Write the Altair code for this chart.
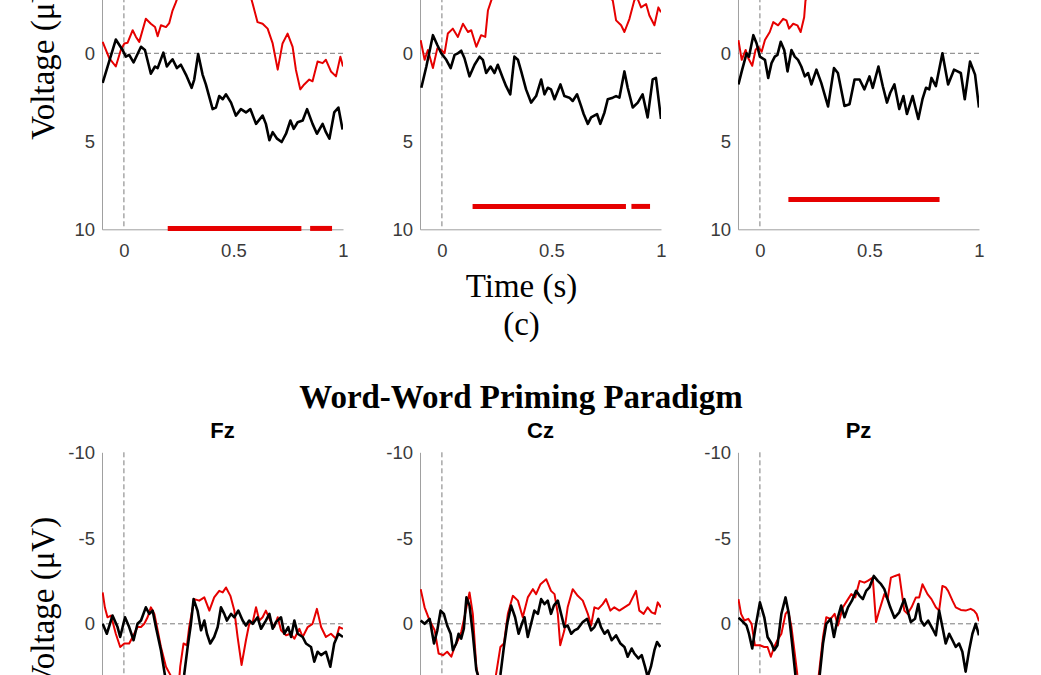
import altair as alt
import pandas as pd

RED = "#e60000"
BLACK = "#000000"
GRAY = "#7a7a7a"

# ---------------- data (time in s, voltage in microvolts) ----------------
top1_red = [(-0.097,-0.65),(-0.067,0.28),(-0.037,0.75),(-0.014,-0.19),(0.002,-0.56),(0.017,-0.6),(0.04,-1.31),(0.055,-0.93),(0.07,-0.65),(0.1,-1.96),(0.123,-1.68),(0.142,-1.49),(0.154,-0.97),(0.169,-1.59),(0.192,-1.49),(0.207,-1.72),(0.222,-2.43),(0.237,-2.89),(0.26,-3.7),(0.29,-4.5),(0.32,-5.1),(0.35,-5.7),(0.38,-6.2),(0.41,-6.5),(0.44,-6.3),(0.47,-6.7),(0.5,-6.1),(0.53,-5.3),(0.56,-4.1),(0.577,-3.3),(0.588,-2.8),(0.61,-1.77),(0.633,-1.68),(0.656,-1.4),(0.679,-0.56),(0.702,0.93),(0.724,-0.56),(0.747,-1.12),(0.77,-0.37),(0.785,0.93),(0.805,2.05),(0.823,1.77),(0.846,1.49),(0.861,1.59),(0.884,0.47),(0.907,0.56),(0.922,0.37),(0.945,1.03),(0.968,1.31),(0.988,0.19),(1.0,0.75)]
top1_black = [(-0.097,1.68),(-0.037,-0.78),(-0.006,-0.19),(0.009,0.19),(0.024,0.09),(0.044,0.52),(0.078,-0.37),(0.096,-0.19),(0.123,1.16),(0.142,0.75),(0.154,0.84),(0.18,-0.04),(0.196,0.75),(0.207,0.56),(0.222,0.34),(0.242,0.84),(0.26,0.65),(0.283,1.21),(0.309,1.96),(0.321,1.49),(0.339,0.04),(0.359,1.21),(0.374,1.77),(0.405,3.17),(0.42,3.08),(0.435,2.43),(0.451,2.61),(0.466,2.33),(0.489,2.8),(0.511,3.54),(0.534,3.17),(0.557,3.36),(0.577,3.17),(0.603,4.01),(0.633,3.54),(0.648,4.01),(0.664,4.94),(0.679,4.48),(0.699,4.85),(0.72,5.04),(0.74,4.57),(0.76,3.82),(0.775,4.29),(0.793,3.92),(0.816,3.82),(0.836,3.17),(0.861,4.01),(0.881,4.57),(0.907,4.01),(0.922,4.48),(0.938,4.85),(0.96,3.36),(0.979,3.08),(0.998,4.33)]
top1_sig = [(0.20, 0.81, 9.95), (0.85, 0.95, 9.95)]

top2_red = [(-0.097,-0.75),(-0.079,0.37),(-0.064,-0.19),(-0.041,0.84),(-0.021,-0.28),(-0.003,-0.19),(0.012,0.0),(0.027,-1.12),(0.05,-1.4),(0.073,-0.93),(0.096,-1.68),(0.119,-1.21),(0.134,-1.31),(0.157,-0.37),(0.179,-1.03),(0.198,-0.93),(0.21,-2.43),(0.225,-2.99),(0.25,-3.8),(0.3,-4.8),(0.35,-5.5),(0.4,-6.0),(0.45,-6.3),(0.5,-6.6),(0.55,-6.2),(0.6,-5.6),(0.65,-5.0),(0.7,-4.3),(0.75,-3.5),(0.78,-2.99),(0.795,-1.87),(0.818,-1.59),(0.833,-1.21),(0.856,-1.96),(0.878,-3.0),(0.89,-3.2),(0.909,-2.61),(0.932,-2.8),(0.947,-2.15),(0.97,-1.59),(0.988,-2.61),(1.0,-2.33)]
top2_black = [(-0.094,1.96),(-0.071,0.75),(-0.041,-1.03),(-0.021,-0.47),(-0.003,0.0),(0.02,0.37),(0.04,0.84),(0.058,0.09),(0.073,0.0),(0.088,-0.15),(0.103,0.28),(0.126,1.31),(0.149,0.65),(0.172,0.19),(0.187,0.37),(0.202,1.12),(0.222,0.75),(0.24,1.12),(0.255,0.65),(0.278,1.4),(0.293,1.87),(0.312,2.33),(0.331,0.19),(0.347,0.37),(0.362,1.03),(0.384,2.05),(0.407,2.8),(0.43,2.43),(0.453,1.49),(0.468,2.33),(0.483,1.96),(0.498,2.05),(0.514,2.61),(0.541,1.77),(0.559,2.43),(0.582,2.52),(0.597,2.71),(0.617,2.33),(0.635,2.99),(0.647,3.45),(0.666,4.01),(0.681,3.64),(0.708,3.45),(0.723,4.01),(0.742,3.36),(0.757,2.61),(0.78,2.52),(0.795,2.43),(0.81,2.52),(0.833,1.03),(0.848,1.96),(0.871,3.08),(0.894,2.8),(0.916,2.33),(0.939,3.64),(0.962,1.49),(0.977,1.4),(1.0,3.73)]
top2_sig = [(0.14, 0.84, 8.7), (0.865, 0.95, 8.7)]

top3_red = [(-0.098,-0.75),(-0.083,0.37),(-0.065,-0.19),(-0.053,0.28),(-0.035,0.71),(-0.02,-0.19),(-0.008,-0.37),(0.008,-0.09),(0.023,-0.75),(0.045,-1.21),(0.061,-1.77),(0.083,-1.59),(0.106,-1.96),(0.121,-1.87),(0.133,-1.4),(0.152,-1.68),(0.171,-1.59),(0.186,-1.21),(0.202,-2.05),(0.208,-2.99),(0.23,-3.6),(0.27,-4.4),(0.32,-5.2),(0.37,-5.9),(0.42,-6.4),(0.47,-6.8),(0.52,-7.0),(0.57,-6.7),(0.62,-6.2),(0.67,-5.8),(0.72,-5.4),(0.77,-5.0),(0.82,-4.8),(0.87,-4.6),(0.92,-4.4),(0.96,-4.2),(1.0,-4.0)]
top3_black = [(-0.098,1.77),(-0.083,1.03),(-0.061,0.0),(-0.05,0.19),(-0.03,-1.03),(-0.015,-0.56),(0.0,0.19),(0.023,0.37),(0.038,1.4),(0.053,0.56),(0.068,0.19),(0.08,0.09),(0.095,-0.65),(0.111,-0.19),(0.126,1.03),(0.144,-0.19),(0.159,0.19),(0.174,0.37),(0.189,0.75),(0.205,1.31),(0.22,1.12),(0.235,1.77),(0.258,0.93),(0.28,1.68),(0.311,3.02),(0.338,0.84),(0.356,1.12),(0.386,2.99),(0.409,2.89),(0.432,1.49),(0.455,1.49),(0.477,2.05),(0.5,1.31),(0.515,1.96),(0.541,0.75),(0.561,1.87),(0.58,2.8),(0.595,2.24),(0.614,1.77),(0.636,3.17),(0.655,2.43),(0.671,3.45),(0.697,2.43),(0.723,3.73),(0.742,2.61),(0.758,1.96),(0.773,2.05),(0.783,1.4),(0.803,1.87),(0.833,0.0),(0.859,1.77),(0.886,0.93),(0.902,1.03),(0.917,1.12),(0.935,2.61),(0.959,0.47),(0.982,1.21),(1.0,3.08)]
top3_sig = [(0.13, 0.82, 8.3)]

fz_red = [(-0.097,-1.83),(-0.087,-0.96),(-0.075,-0.38),(-0.059,-0.48),(-0.037,0.58),(-0.017,1.35),(0.002,1.15),(0.024,1.15),(0.04,0.77),(0.062,0.19),(0.078,0.19),(0.093,0.0),(0.108,-0.38),(0.123,-0.96),(0.139,-0.58),(0.151,0.19),(0.169,1.35),(0.192,2.5),(0.212,2.98),(0.225,4.0),(0.238,4.5),(0.248,3.9),(0.257,2.5),(0.272,1.15),(0.288,1.25),(0.298,0.19),(0.321,-1.44),(0.344,-1.35),(0.367,-1.54),(0.39,-0.77),(0.412,-1.54),(0.435,-1.92),(0.451,-1.83),(0.466,-2.12),(0.486,-1.63),(0.504,-0.77),(0.519,0.77),(0.537,2.4),(0.557,0.96),(0.572,0.0),(0.588,-0.1),(0.603,-0.96),(0.618,-0.19),(0.633,-0.38),(0.648,-0.77),(0.668,-0.19),(0.686,0.19),(0.702,-0.38),(0.717,0.38),(0.74,0.67),(0.76,0.58),(0.778,0.87),(0.801,0.29),(0.816,0.77),(0.839,0.19),(0.861,0.0),(0.881,-0.87),(0.9,0.19),(0.922,0.77),(0.945,0.58),(0.968,0.87),(0.983,0.19),(1.0,0.29)]
fz_black = [(-0.097,0.0),(-0.078,0.58),(-0.052,-0.48),(-0.029,0.19),(-0.017,0.77),(0.005,-0.38),(0.024,0.19),(0.044,0.96),(0.062,0.0),(0.078,-0.19),(0.1,-0.96),(0.116,-0.58),(0.131,-0.77),(0.146,0.19),(0.169,1.54),(0.187,2.98),(0.2,4.0),(0.22,5.2),(0.235,5.8),(0.25,5.1),(0.265,3.8),(0.275,2.98),(0.291,1.35),(0.306,0.0),(0.318,-1.44),(0.336,-0.77),(0.352,0.38),(0.367,-0.19),(0.379,0.58),(0.394,1.15),(0.412,0.77),(0.428,0.19),(0.443,-0.96),(0.458,-0.58),(0.47,-0.19),(0.489,-0.58),(0.504,-0.38),(0.522,-0.77),(0.542,-0.19),(0.557,0.1),(0.572,-0.19),(0.588,0.0),(0.61,-0.38),(0.626,0.29),(0.648,-0.19),(0.664,-0.58),(0.679,0.29),(0.694,-0.1),(0.717,-0.38),(0.732,0.58),(0.75,0.19),(0.763,0.77),(0.778,-0.19),(0.793,0.58),(0.816,0.77),(0.831,1.15),(0.854,1.35),(0.869,2.21),(0.884,1.63),(0.9,1.83),(0.922,1.63),(0.942,2.5),(0.96,1.15),(0.979,0.58),(1.0,0.77)]

cz_red = [(-0.097,-2.02),(-0.079,-0.96),(-0.056,-0.19),(-0.033,0.38),(-0.015,1.73),(0.005,1.83),(0.024,1.63),(0.043,1.92),(0.058,1.35),(0.073,0.96),(0.088,0.48),(0.106,-0.58),(0.126,-1.83),(0.141,-0.58),(0.157,2.5),(0.164,2.98),(0.18,4.0),(0.2,5.0),(0.22,4.8),(0.238,3.6),(0.248,2.88),(0.267,1.35),(0.283,1.15),(0.301,-0.58),(0.324,-1.63),(0.347,-1.35),(0.369,-0.38),(0.392,-1.54),(0.415,-2.02),(0.43,-1.73),(0.45,-2.31),(0.476,-2.6),(0.498,-1.92),(0.514,-1.73),(0.529,-0.58),(0.54,1.25),(0.559,0.38),(0.574,-0.96),(0.597,-2.02),(0.62,-1.63),(0.643,-1.35),(0.666,-0.58),(0.681,0.1),(0.696,-0.96),(0.714,-0.87),(0.734,-1.15),(0.749,-1.44),(0.769,-0.77),(0.787,-0.96),(0.81,-0.77),(0.833,-0.96),(0.856,-1.15),(0.886,-1.92),(0.901,-0.77),(0.921,-0.58),(0.939,-0.96),(0.957,-0.67),(0.973,-0.58),(0.985,-1.25),(1.0,-0.96)]
cz_black = [(-0.097,-0.19),(-0.079,0.0),(-0.056,-0.29),(-0.036,1.15),(-0.021,0.38),(-0.006,-0.77),(0.009,-0.58),(0.024,0.1),(0.04,0.58),(0.05,1.54),(0.065,1.15),(0.076,0.58),(0.088,0.87),(0.1,0.29),(0.112,-1.54),(0.126,-1.06),(0.141,0.58),(0.157,2.69),(0.164,2.98),(0.18,4.2),(0.2,5.5),(0.22,6.0),(0.24,5.2),(0.258,3.6),(0.267,2.98),(0.283,1.35),(0.298,0.0),(0.316,-1.06),(0.334,-0.38),(0.35,0.58),(0.365,0.0),(0.377,-0.38),(0.392,0.77),(0.407,0.0),(0.422,-0.77),(0.438,-0.58),(0.453,-1.44),(0.468,-1.15),(0.483,-1.35),(0.498,-0.58),(0.511,-1.06),(0.529,-1.35),(0.544,-0.58),(0.559,0.19),(0.574,0.1),(0.59,0.58),(0.605,0.38),(0.62,0.29),(0.643,-0.1),(0.663,-0.29),(0.681,0.38),(0.696,0.19),(0.714,-0.29),(0.726,0.19),(0.742,0.58),(0.757,0.38),(0.775,0.96),(0.795,0.67),(0.815,1.15),(0.833,1.35),(0.848,1.92),(0.866,1.44),(0.878,1.73),(0.897,2.02),(0.912,1.83),(0.927,2.5),(0.939,3.1),(0.954,2.5),(0.97,1.54),(0.982,1.06),(0.997,1.35)]

pz_red = [(-0.098,-1.44),(-0.086,-0.58),(-0.071,-0.19),(-0.053,-0.29),(-0.038,0.0),(-0.023,1.25),(0.0,1.25),(0.02,1.35),(0.035,1.35),(0.05,1.92),(0.065,1.35),(0.08,0.96),(0.098,0.58),(0.117,-0.58),(0.129,-0.77),(0.144,0.19),(0.159,1.73),(0.171,2.98),(0.19,4.2),(0.21,5.3),(0.23,5.6),(0.25,4.6),(0.265,3.4),(0.273,2.5),(0.288,0.77),(0.303,-0.38),(0.323,-0.29),(0.341,-0.58),(0.356,0.1),(0.379,-0.96),(0.398,-1.35),(0.417,-1.73),(0.435,-1.54),(0.455,-2.5),(0.477,-2.4),(0.492,-2.5),(0.515,-2.69),(0.53,-0.1),(0.545,-0.77),(0.568,-1.73),(0.583,-1.44),(0.598,-2.69),(0.617,-2.79),(0.636,-2.88),(0.659,-0.77),(0.674,-0.58),(0.692,-0.96),(0.712,-1.54),(0.727,-1.54),(0.742,-2.31),(0.765,-1.73),(0.783,-1.44),(0.803,-0.96),(0.818,-0.77),(0.833,-2.21),(0.848,-2.12),(0.859,-1.92),(0.879,-1.35),(0.894,-0.96),(0.917,-0.81),(0.939,-0.77),(0.962,-0.87),(0.977,-0.77),(0.989,-0.58),(1.0,-0.15)]
pz_black = [(-0.098,-0.35),(-0.083,-0.19),(-0.061,0.1),(-0.05,0.58),(-0.035,1.44),(-0.02,0.19),(0.0,-1.25),(0.02,-0.38),(0.035,0.77),(0.053,1.15),(0.065,1.54),(0.08,1.25),(0.098,-0.58),(0.117,-1.54),(0.132,-0.58),(0.147,1.15),(0.162,2.98),(0.18,4.5),(0.2,6.0),(0.22,6.5),(0.24,5.8),(0.26,4.0),(0.273,2.98),(0.288,1.15),(0.303,0.0),(0.323,-0.29),(0.338,0.77),(0.356,-0.38),(0.371,-1.06),(0.386,-0.38),(0.402,-0.96),(0.42,-1.35),(0.439,-1.92),(0.455,-1.63),(0.47,-1.44),(0.485,-1.92),(0.5,-2.12),(0.52,-2.79),(0.538,-2.5),(0.553,-2.31),(0.568,-2.02),(0.58,-1.54),(0.595,-0.96),(0.614,-0.35),(0.636,-0.67),(0.659,-1.44),(0.674,-0.77),(0.689,-0.1),(0.708,-0.29),(0.723,-1.15),(0.735,-0.19),(0.75,0.1),(0.768,-0.19),(0.788,0.29),(0.803,0.67),(0.818,-0.77),(0.833,0.19),(0.848,1.15),(0.864,0.58),(0.879,0.96),(0.894,1.35),(0.909,1.15),(0.924,1.63),(0.939,2.79),(0.955,1.54),(0.97,0.58),(0.985,0.0),(1.0,0.67)]

x_ticks = [0, 0.5, 1]
y_ticks = [-10, -5, 0, 5, 10]
channels = ["Fz", "Cz", "Pz"]
y_label = "Voltage (μV)"
x_label = ["Time (s)", "(c)"]
paradigm = "Word-Word Priming Paradigm"

XSCALE = alt.Scale(domain=[-0.1, 1], nice=False, zero=False)
YSCALE = alt.Scale(domain=[-10, 10], reverse=True, nice=False, zero=False)


def curve(points):
    return pd.DataFrame({"t": [p[0] for p in points], "v": [p[1] for p in points]})


def panel(red, black, sig, height, title=None, ytitle=None, ytitle_y=None,
          xtitle=None, xtitle_x=None):
    xkw = dict(values=x_ticks, labelExpr="toString(datum.value)", title=xtitle)
    if xtitle_x is not None:
        xkw["titleX"] = xtitle_x
    ykw = dict(values=y_ticks, labelExpr="toString(datum.value)", title=ytitle)
    if ytitle_y is not None:
        ykw["titleY"] = ytitle_y
    X = alt.X("t:Q", scale=XSCALE, axis=alt.Axis(**xkw))
    Y = alt.Y("v:Q", scale=YSCALE, axis=alt.Axis(**ykw))
    dash = dict(color=GRAY, strokeDash=[5, 3], strokeWidth=1)
    layers = [
        alt.Chart(pd.DataFrame({"t": [0.0]})).mark_rule(**dash).encode(x=X),
        alt.Chart(pd.DataFrame({"v": [0.0]})).mark_rule(**dash).encode(y=Y),
        alt.Chart(curve(red)).mark_line(color=RED, strokeWidth=2, clip=True,
                                        strokeJoin="round").encode(x=X, y=Y),
        alt.Chart(curve(black)).mark_line(color=BLACK, strokeWidth=2.6, clip=True,
                                          strokeJoin="round").encode(x=X, y=Y),
    ]
    if sig:
        sdf = pd.DataFrame(sig, columns=["t", "t2", "v"])
        layers.append(alt.Chart(sdf).mark_rule(color=RED, strokeWidth=5)
                      .encode(x=X, x2="t2:Q", y=Y))
    ch = alt.layer(*layers).properties(width=241, height=height)
    if title:
        ch = ch.properties(title=alt.TitleParams(
            title, font="Liberation Sans", fontSize=22, fontWeight="bold",
            color="black", anchor="middle", frame="group", offset=0.7))
    return ch


TOP_H = 352
BOT_H = 343

top_row = alt.hconcat(
    panel(top1_red, top1_black, top1_sig, TOP_H, ytitle=y_label),
    panel(top2_red, top2_black, top2_sig, TOP_H, xtitle=x_label, xtitle_x=101),
    panel(top3_red, top3_black, top3_sig, TOP_H),
    spacing=77, bounds="flush",
)

bottom_row = alt.hconcat(
    panel(fz_red, fz_black, None, BOT_H, title=channels[0], ytitle=y_label, ytitle_y=150),
    panel(cz_red, cz_black, None, BOT_H, title=channels[1]),
    panel(pz_red, pz_black, None, BOT_H, title=channels[2]),
    spacing=77, bounds="flush",
    title=alt.TitleParams(paradigm, font="Liberation Serif", fontSize=33,
                          fontWeight="bold", color="black", anchor="middle",
                          dx=15, offset=5),
)

chart = (
    alt.vconcat(top_row, bottom_row, spacing=39)
    .properties(padding={"left": 27, "top": -131.7, "right": 5, "bottom": 5},
                background="white")
    .configure_axis(domainColor="#a0a0a0", domainWidth=1, ticks=False, grid=False,
                    labelFont="Liberation Sans", labelFontSize=18.5, labelColor="#3a3a3a",
                    titleFont="Liberation Serif", titleFontSize=33,
                    titleFontWeight="normal", titleColor="black")
    .configure_axisX(labelPadding=12.6, labelFlush=False, titlePadding=10.5,
                     titleLineHeight=38)
    .configure_axisY(labelPadding=7.5, titlePadding=7)
    .configure_view(stroke=None)
)

chart.save("out.html", embed_options={"renderer": "svg", "actions": False})
